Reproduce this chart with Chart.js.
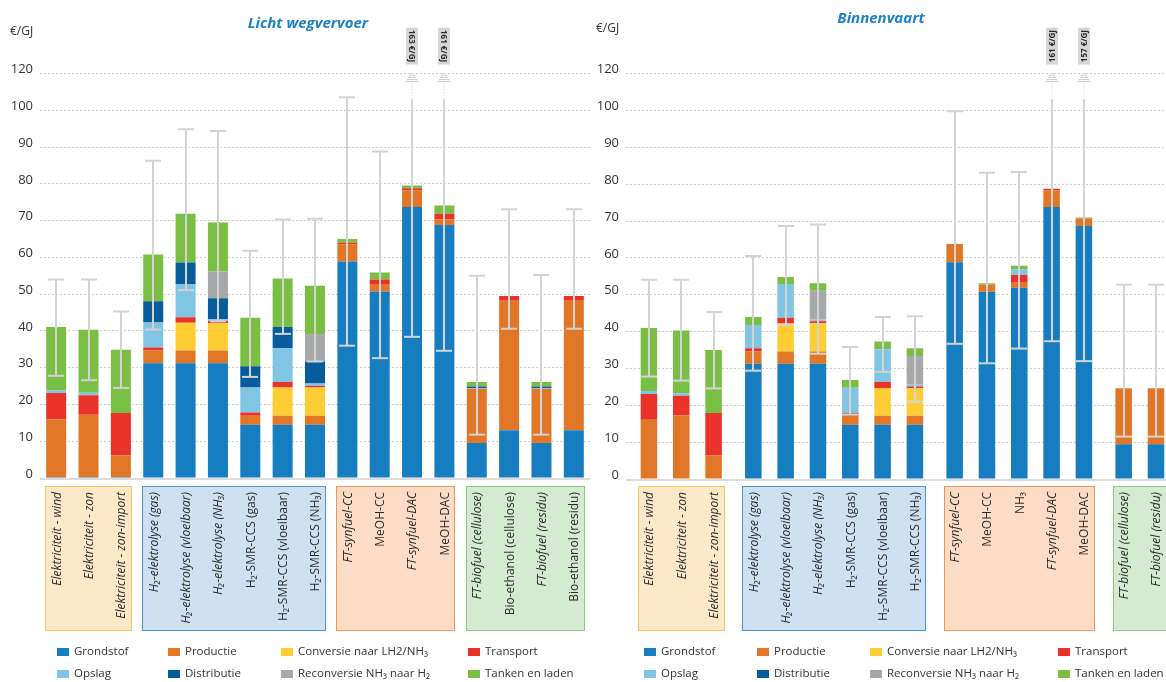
<!DOCTYPE html>
<html>
<head>
<meta charset="utf-8">
<script src="https://cdn.jsdelivr.net/npm/chart.js@4/dist/chart.umd.min.js"></script>
<style>
  body { margin: 0; background: #fff; width: 1166px; height: 682px; overflow: hidden; position: relative; }
  canvas { position: absolute; top: 0; }
  #weg { left: 0; }
  #vaart { left: 590px; }
</style>
</head>
<body>
<canvas id="weg" width="590" height="682"></canvas>
<canvas id="vaart" width="576" height="682"></canvas>
<script>
// Cost components (stack order, bottom to top)
const components = ['Grondstof', 'Productie', 'Conversie naar LH2/NH₃', 'Transport',
    'Opslag', 'Distributie', 'Reconversie NH₃ naar H₂', 'Tanken en laden']
// y axis is broken above 100: the last gridline is labelled 120
const yTickLabels = ['0', '10', '20', '30', '40', '50', '60', '70', '80', '90', '100', '120']

// Licht wegvervoer (€/GJ)
const wegLabels = ['Elektriciteit - wind', 'Elektriciteit - zon', 'Elektriciteit - zon-import',
    'H₂-elektrolyse (gas)', 'H₂-elektrolyse (vloeibaar)', 'H₂-elektrolyse (NH₃)',
    'H₂-SMR-CCS (gas)', 'H₂-SMR-CCS (vloeibaar)', 'H₂-SMR-CCS (NH₃)',
    'FT-synfuel-CC', 'MeOH-CC', 'FT-synfuel-DAC', 'MeOH-DAC',
    'FT-biofuel (cellulose)', 'Bio-ethanol (cellulose)', 'FT-biofuel (residu)', 'Bio-ethanol (residu)']
const wegGroups = [3, 6, 4, 4]
const wegGrondstof   = [0.3, 0.3, 0.3, 31.2, 31.2, 31.2, 14.5, 14.5, 14.5, 58.9, 50.7, 73.7, 68.8, 9.5, 13.0, 9.5, 13.0]
const wegProductie   = [15.6, 16.9, 5.9, 3.5, 3.5, 3.5, 2.4, 2.4, 2.4, 4.6, 1.9, 4.6, 1.6, 14.8, 35.2, 14.8, 35.2]
const wegConversie   = [0, 0, 0, 0, 7.5, 7.4, 0, 7.7, 7.7, 0, 0, 0, 0, 0, 0, 0, 0]
const wegTransport   = [7.2, 5.3, 11.5, 0.8, 1.5, 0.6, 0.9, 1.5, 0.5, 0.5, 1.4, 0.5, 1.5, 0, 1.3, 0, 1.3]
const wegOpslag      = [0.8, 0.7, 0, 6.8, 9.1, 0.5, 6.8, 9.2, 0.6, 0, 0, 0, 0, 0.2, 0, 0.2, 0]
const wegDistributie = [0, 0, 0, 5.8, 5.8, 5.7, 5.8, 5.8, 6.0, 0, 0, 0, 0, 0.4, 0, 0.4, 0]
const wegReconversie = [0, 0, 0, 0, 0, 7.3, 0, 0, 7.5, 0, 0, 0, 0, 0, 0, 0, 0]
const wegTanken      = [17.2, 17.1, 17.2, 12.7, 13.3, 13.3, 13.2, 13.2, 13.1, 1.0, 1.9, 0.8, 2.2, 1.2, 0, 1.2, 0]
const wegMin = [27.8, 26.6, 24.5, 40.4, 51.1, 42.6, 27.5, 39.2, 31.7, 36.0, 32.6, 38.4, 34.6, 11.8, 40.6, 11.8, 40.6]
const wegMax = [54.0, 54.0, 45.3, 86.3, 94.9, 94.4, 61.8, 70.3, 70.5, 103.6, 88.8, 163, 161, 55.0, 73.1, 55.2, 73.1]

// Binnenvaart (€/GJ)
const vaartLabels = ['Elektriciteit - wind', 'Elektriciteit - zon', 'Elektriciteit - zon-import',
    'H₂-elektrolyse (gas)', 'H₂-elektrolyse (vloeibaar)', 'H₂-elektrolyse (NH₃)',
    'H₂-SMR-CCS (gas)', 'H₂-SMR-CCS (vloeibaar)', 'H₂-SMR-CCS (NH₃)',
    'FT-synfuel-CC', 'MeOH-CC', 'NH₃', 'FT-synfuel-DAC', 'MeOH-DAC',
    'FT-biofuel (cellulose)', 'FT-biofuel (residu)']
const vaartGroups = [3, 6, 5, 2]
const vaartGrondstof   = [0, 0, 0, 31.3, 31.3, 31.3, 14.7, 14.7, 14.7, 58.8, 50.8, 51.9, 73.8, 68.7, 9.4, 9.4]
const vaartProductie   = [16.1, 17.3, 6.4, 3.3, 3.3, 3.3, 2.8, 2.5, 2.5, 5.0, 1.9, 1.4, 4.6, 2.0, 15.2, 15.2]
const vaartConversie   = [0, 0, 0, 0, 7.6, 7.7, 0, 7.5, 7.4, 0, 0, 0, 0, 0, 0, 0]
const vaartTransport   = [7.0, 5.3, 11.5, 0.9, 1.6, 0.5, 0.4, 1.6, 0.5, 0, 0, 2.1, 0.4, 0, 0, 0]
const vaartOpslag      = [0.8, 0.7, 0, 6.3, 9.1, 0.5, 6.9, 8.9, 0.6, 0, 0, 1.5, 0, 0, 0, 0]
const vaartDistributie = [0, 0, 0, 0, 0, 0, 0, 0, 0, 0, 0, 0, 0, 0, 0, 0]
const vaartReconversie = [0, 0, 0, 0, 0, 7.8, 0, 0, 7.7, 0, 0, 0, 0, 0, 0, 0]
const vaartTanken      = [17.1, 17.0, 17.1, 2.2, 1.9, 2.0, 2.1, 2.1, 2.1, 0, 0.4, 1.0, 0, 0.3, 0, 0]
const vaartMin = [27.8, 26.7, 24.6, 29.4, 41.8, 34.0, 17.5, 29.1, 21.0, 36.7, 31.4, 35.4, 37.4, 32.0, 11.5, 11.5]
const vaartMax = [54.1, 54.1, 45.3, 60.5, 68.7, 69.1, 35.8, 44.0, 44.2, 99.8, 83.1, 83.3, 161, 157, 52.7, 52.7]

// Styles
const componentColors = ['#167dc1', '#e17627', '#fecd34', '#e8322a', '#80c5e4', '#075d9b', '#a6a8a9', '#79bf44']
const groupFills   = ['#fde9c8', '#cfe0f3', '#fcdcc5', '#d4ebd1']
const groupStrokes = ['#f7c564', '#4c95d4', '#ee965a', '#8bc97b']
const FONT = '"Open Sans", "Noto Sans", sans-serif'
const BLUE_TITLE = '#1f80c8'

const panels = [
    {
        id: 'weg', title: 'Licht wegvervoer', labels: wegLabels, groups: wegGroups,
        series: [wegGrondstof, wegProductie, wegConversie, wegTransport, wegOpslag, wegDistributie, wegReconversie, wegTanken],
        low: wegMin, high: wegMax,
        layout: { padTop: 9, padBottom: 204, axisWidth: 40, tickPad: 7, xMin: -0.5, xMax: 16.5, groupGap: 0,
            titleX: 308, titleY: 24, unitX: 10, unitY: 32, legendX: [57, 168, 281, 468], legendY: [652, 674], tagRot: 1 }
    },
    {
        id: 'vaart', title: 'Binnenvaart', labels: vaartLabels, groups: vaartGroups,
        series: [vaartGrondstof, vaartProductie, vaartConversie, vaartTransport, vaartOpslag, vaartDistributie, vaartReconversie, vaartTanken],
        low: vaartMin, high: vaartMax,
        layout: { padTop: 5, padBottom: 203, axisWidth: 36, tickPad: 7, xMin: -0.71, xMax: 16.0, groupGap: 0.23,
            titleX: 291, titleY: 19, unitX: 6, unitY: 29, legendX: [54, 167, 280, 468], legendY: [652, 674], tagRot: -1 }
    }
]

// bar positions on the linear x axis: one unit per bar, plus an extra gap between groups
function barPositions(groups, gap) {
    let pos = [], n = 0
    groups.forEach((size, gi) => {
        for (let k = 0; k < size; k++) { pos.push(n + gi * gap); n++ }
    })
    return pos
}

function makeDecor(panel, pos) {
    const L = panel.layout
    return {
        id: 'decor',
        beforeDatasetsDraw(chart) {
            const { ctx, chartArea } = chart
            const y0 = chart.scales.y.getPixelForValue(0)
            ctx.save()
            ctx.strokeStyle = '#dcdcdc'
            ctx.lineWidth = 2
            ctx.beginPath()
            ctx.moveTo(chartArea.left, y0 + 1)
            ctx.lineTo(chartArea.right, y0 + 1)
            ctx.stroke()
            ctx.restore()
        },
        afterDatasetsDraw(chart) {
            const { ctx } = chart
            const x = chart.scales.x, y = chart.scales.y
            ctx.save()
            ctx.strokeStyle = '#d3d3d3'
            ctx.lineWidth = 2
            pos.forEach((p, i) => {
                const px = Math.round(x.getPixelForValue(p))
                const yl = y.getPixelForValue(panel.low[i])
                const hi = panel.high[i]
                ctx.setLineDash([])
                ctx.beginPath()
                ctx.moveTo(px - 8, yl); ctx.lineTo(px + 8, yl)
                ctx.stroke()
                if (hi <= 110) {
                    const yh = y.getPixelForValue(hi)
                    ctx.beginPath()
                    ctx.moveTo(px, yl); ctx.lineTo(px, yh)
                    ctx.moveTo(px - 8, yh); ctx.lineTo(px + 8, yh)
                    ctx.stroke()
                } else {
                    // value off the scale: solid stem, dotted part, break marks and a tag
                    const ySolid = y.getPixelForValue(103)
                    const yDot = y.getPixelForValue(108)
                    ctx.beginPath()
                    ctx.moveTo(px, yl); ctx.lineTo(px, ySolid)
                    ctx.stroke()
                    ctx.save()
                    ctx.lineWidth = 1
                    ctx.strokeStyle = '#cfcfcf'
                    ctx.setLineDash([1, 2])
                    ctx.beginPath()
                    ctx.moveTo(px, ySolid); ctx.lineTo(px, yDot)
                    ctx.stroke()
                    ctx.setLineDash([])
                    for (let k = 0; k < 5; k++) {
                        const yy = Math.round(yDot - k * 2) + 0.5
                        const w = 6 - k
                        ctx.beginPath()
                        ctx.moveTo(px - w, yy); ctx.lineTo(px + w, yy)
                        ctx.stroke()
                    }
                    const yTop = y.getPixelForValue(122.5), yBot = y.getPixelForValue(112.5)
                    ctx.fillStyle = '#d6d6d6'
                    ctx.fillRect(px - 6, yTop, 12, yBot - yTop)
                    ctx.fillStyle = '#2a2a2a'
                    ctx.font = 'bold 8px ' + FONT
                    ctx.textAlign = 'center'
                    ctx.textBaseline = 'middle'
                    ctx.translate(px, (yTop + yBot) / 2)
                    ctx.rotate(L.tagRot * Math.PI / 2)
                    ctx.fillText(Math.round(hi) + ' €/GJ', 0, 0.5)
                    ctx.restore()
                }
            })
            ctx.restore()
        },
        afterDraw(chart) {
            const { ctx } = chart
            const x = chart.scales.x
            ctx.save()
            // title and unit
            ctx.fillStyle = BLUE_TITLE
            ctx.font = 'italic bold 15px ' + FONT
            ctx.textAlign = 'center'
            ctx.textBaseline = 'middle'
            ctx.fillText(panel.title, L.titleX, L.titleY)
            ctx.fillStyle = '#333'
            ctx.font = '12px ' + FONT
            ctx.textAlign = 'left'
            ctx.fillText('€/GJ', L.unitX, L.unitY)

            // group boxes
            let start = 0
            panel.groups.forEach((size, gi) => {
                const left = Math.round(x.getPixelForValue(pos[start])) - 10.5
                const right = Math.round(x.getPixelForValue(pos[start + size - 1])) + 10.5
                ctx.fillStyle = groupFills[gi]
                ctx.strokeStyle = groupStrokes[gi]
                ctx.lineWidth = 1
                ctx.fillRect(left, 486.5, right - left, 144)
                ctx.strokeRect(left, 486.5, right - left, 144)
                start += size
            })

            // category labels, rotated
            ctx.fillStyle = '#2b2b2b'
            panel.labels.forEach((lab, i) => {
                const px = x.getPixelForValue(pos[i])
                const italic = /^(Elektriciteit|H₂-elektrolyse|FT-)/.test(lab)
                ctx.save()
                ctx.font = (italic ? 'italic ' : '') + '12px ' + FONT
                ctx.translate(px + 1, 492)
                ctx.rotate(-Math.PI / 2)
                ctx.textAlign = 'right'
                ctx.textBaseline = 'middle'
                ctx.fillText(lab, 0, 0)
                ctx.restore()
            })

            // legend
            ctx.font = '11.5px ' + FONT
            ctx.textAlign = 'left'
            ctx.textBaseline = 'middle'
            components.forEach((name, k) => {
                const col = k % 4, row = Math.floor(k / 4)
                const lx = L.legendX[col], ly = L.legendY[row]
                ctx.fillStyle = componentColors[k]
                ctx.fillRect(lx, ly - 4, 12, 8)
                ctx.fillStyle = '#333'
                ctx.fillText(name, lx + 17, ly)
            })
            ctx.restore()
        }
    }
}

panels.forEach(panel => {
    const L = panel.layout
    const pos = barPositions(panel.groups, L.groupGap)
    new Chart(document.getElementById(panel.id), {
        type: 'bar',
        data: {
            datasets: components.map((name, k) => ({
                label: name,
                data: panel.series[k].map((v, i) => ({ x: pos[i], y: v })),
                backgroundColor: componentColors[k],
                borderWidth: 0,
                grouped: false,
                maxBarThickness: 20
            }))
        },
        options: {
            responsive: false,
            animation: false,
            devicePixelRatio: 1,
            layout: { padding: { top: L.padTop, bottom: L.padBottom, left: 0, right: 0 } },
            plugins: { legend: { display: false }, tooltip: { enabled: false } },
            scales: {
                x: { type: 'linear', display: false, min: L.xMin, max: L.xMax, bounds: 'data', offset: false },
                y: {
                    stacked: true, min: 0, max: 126, bounds: 'data',
                    afterFit: s => { s.width = L.axisWidth },
                    afterBuildTicks: s => { s.ticks = yTickLabels.map((t, i) => ({ value: i * 10 })) },
                    grid: {
                        color: c => (c.tick && c.tick.value === 0) ? 'rgba(0,0,0,0)' : '#cdcdcd',
                        drawTicks: false, lineWidth: 1
                    },
                    border: { display: false, dash: [2, 2] },
                    ticks: {
                        padding: L.tickPad, labelOffset: -4, color: '#333',
                        font: { family: FONT, size: 13 },
                        callback: (v, i) => yTickLabels[i]
                    }
                }
            }
        },
        plugins: [makeDecor(panel, pos)]
    })
})
</script>
</body>
</html>
